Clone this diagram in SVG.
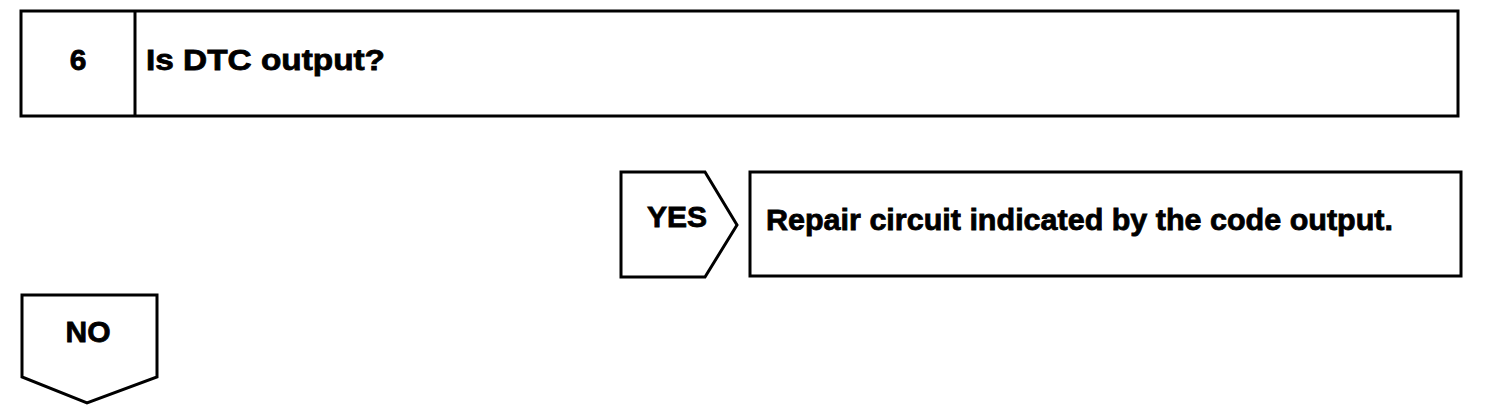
<svg xmlns="http://www.w3.org/2000/svg" width="1504" height="414" viewBox="0 0 1504 414">
<style>
.s{fill:#fff;stroke:#000;stroke-width:3;stroke-linejoin:miter}
.t{font-family:"Liberation Sans",Arial,sans-serif;font-weight:bold;font-size:30px;fill:#000;stroke:#000;stroke-width:0.8}
</style>
<rect width="1504" height="414" fill="#fff"/>
<g id="step6">
<rect class="s" x="21" y="11" width="1437" height="105"/>
<line class="s" x1="135" y1="11" x2="135" y2="116"/>
<text class="t" x="78" y="70" text-anchor="middle">6</text>
<text class="t" x="146" y="70" textLength="239" lengthAdjust="spacingAndGlyphs">Is DTC output?</text>
</g>
<g id="yes">
<polygon class="s" points="621,172 705,172 737,225 705,277 621,277"/>
<text class="t" x="677" y="227" text-anchor="middle">YES</text>
</g>
<g id="repair">
<rect class="s" x="750" y="172" width="711" height="104"/>
<text class="t" x="766" y="230" textLength="627" lengthAdjust="spacingAndGlyphs">Repair circuit indicated by the code output.</text>
</g>
<g id="no">
<polygon class="s" points="22,295 157,295 157,377 87,403 22,377"/>
<text class="t" x="88" y="342" text-anchor="middle">NO</text>
</g>
<g id="connectors"></g>
</svg>
